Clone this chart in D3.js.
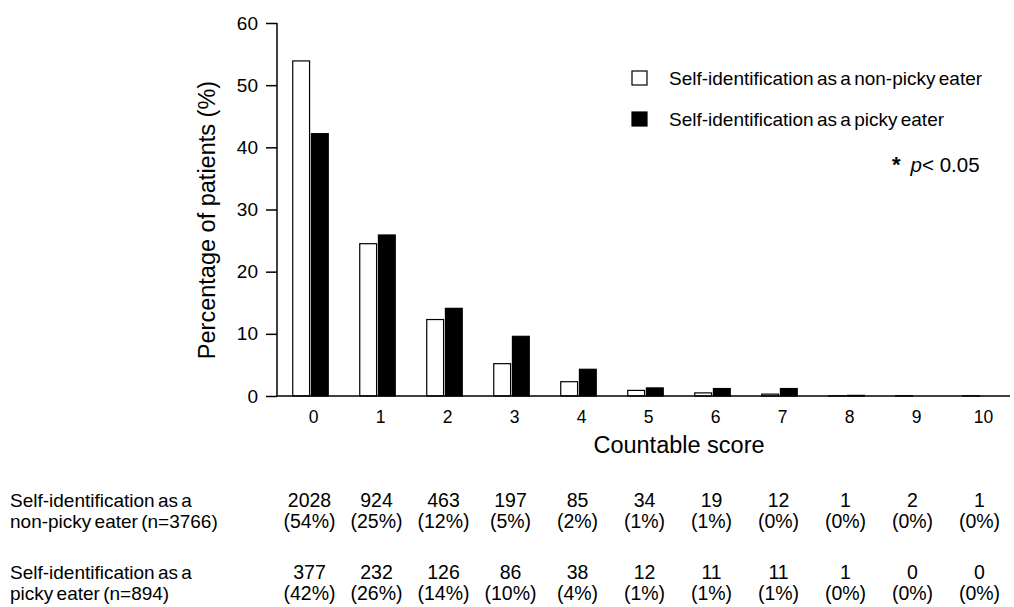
<!DOCTYPE html>
<html>
<head>
<meta charset="utf-8">
<script src="https://cdn.jsdelivr.net/npm/d3@7"></script>
<style>
  body { margin: 0; background: #fff; }
  text { font-family: "Liberation Sans", Arial, sans-serif; fill: #000; }
</style>
</head>
<body>
<div id="chart"></div>
<script>
// data
var scores = ["0", "1", "2", "3", "4", "5", "6", "7", "8", "9", "10"];
var nonPicky = [53.9, 24.5, 12.3, 5.2, 2.3, 0.9, 0.5, 0.3, 0.03, 0.05, 0.03];
var picky = [42.2, 25.9, 14.1, 9.6, 4.3, 1.3, 1.2, 1.2, 0.1, 0, 0];
var yTicks = [0, 10, 20, 30, 40, 50, 60];
var nonPickyCounts = ["2028", "924", "463", "197", "85", "34", "19", "12", "1", "2", "1"];
var nonPickyPct = ["(54%)", "(25%)", "(12%)", "(5%)", "(2%)", "(1%)", "(1%)", "(0%)", "(0%)", "(0%)", "(0%)"];
var pickyCounts = ["377", "232", "126", "86", "38", "12", "11", "11", "1", "0", "0"];
var pickyPct = ["(42%)", "(26%)", "(14%)", "(10%)", "(4%)", "(1%)", "(1%)", "(1%)", "(0%)", "(0%)", "(0%)"];
var seriesNames = ["Self-identification as a non-picky eater", "Self-identification as a picky eater"];

var width = 1014, height = 607;

var svg = d3.select("#chart")
  .append("svg")
  .attr("width", width)
  .attr("height", height);

var xScale = d3.scaleBand()
  .domain(scores)
  .range([277, 1014])
  .paddingInner(0.47)
  .paddingOuter(0.235);

var subScale = d3.scaleBand()
  .domain(["a", "b"])
  .range([0, xScale.bandwidth()])
  .paddingInner(0.1);

var yScale = d3.scaleLinear()
  .domain([0, 60])
  .range([396, 23]);

// bars
var groups = svg.selectAll(".grp")
  .data(scores)
  .enter().append("g")
  .attr("class", "grp")
  .attr("transform", function(d) { return "translate(" + xScale(d) + ",0)"; });

groups.append("rect")
  .attr("x", subScale("a"))
  .attr("y", function(d, i) { return yScale(nonPicky[i]); })
  .attr("width", subScale.bandwidth())
  .attr("height", function(d, i) { return yScale(0) - yScale(nonPicky[i]); })
  .attr("fill", "#fff")
  .attr("stroke", "#000")
  .attr("stroke-width", 1.2);

groups.append("rect")
  .attr("x", subScale("b"))
  .attr("y", function(d, i) { return yScale(picky[i]); })
  .attr("width", subScale.bandwidth())
  .attr("height", function(d, i) { return yScale(0) - yScale(picky[i]); })
  .attr("fill", "#000")
  .attr("stroke", "#000")
  .attr("stroke-width", 1.2);

// y axis
var yAxis = svg.append("g")
  .attr("transform", "translate(277,0)")
  .call(d3.axisLeft(yScale).tickValues(yTicks).tickSize(11).tickPadding(8));
yAxis.select(".domain").attr("stroke-width", 1.5).attr("d", "M0," + yScale(60) + "V" + yScale(0));
yAxis.selectAll(".tick line").attr("stroke-width", 1.5);
yAxis.selectAll("text")
  .style("font-family", "Liberation Sans, Arial, sans-serif")
  .style("font-size", "19px");

// x axis baseline
svg.append("line")
  .attr("x1", 277).attr("x2", 1010)
  .attr("y1", yScale(0)).attr("y2", yScale(0))
  .attr("stroke", "#000")
  .attr("stroke-width", 1.5);

// x tick labels
svg.selectAll(".xlab")
  .data(scores)
  .enter().append("text")
  .attr("class", "xlab")
  .attr("x", function(d) { return xScale(d) + xScale.bandwidth() / 2 + 3; })
  .attr("y", 423)
  .attr("text-anchor", "middle")
  .style("font-size", "17.5px")
  .text(function(d) { return d; });

// axis titles
svg.append("text")
  .attr("x", 679)
  .attr("y", 453)
  .attr("text-anchor", "middle")
  .style("font-size", "23.5px")
  .text("Countable score");

svg.append("text")
  .attr("transform", "translate(215,220) rotate(-90)")
  .attr("text-anchor", "middle")
  .style("font-size", "23.5px")
  .text("Percentage of patients (%)");

// legend
var legend = svg.selectAll(".leg")
  .data(seriesNames)
  .enter().append("g")
  .attr("class", "leg")
  .attr("transform", function(d, i) { return "translate(632," + (71 + i * 41) + ")"; });

legend.append("rect")
  .attr("width", 15)
  .attr("height", 14)
  .attr("fill", function(d, i) { return i === 0 ? "#fff" : "#000"; })
  .attr("stroke", "#000")
  .attr("stroke-width", 1.2);

legend.append("text")
  .attr("x", 37)
  .attr("y", 14)
  .style("font-size", "19px")
  .style("word-spacing", "-2px")
  .text(function(d) { return d; });

var sig = svg.append("text")
  .attr("x", 892)
  .attr("y", 172)
  .style("font-size", "20.5px");
sig.append("tspan").style("font-size", "22px").style("font-weight", "bold").text("*");
sig.append("tspan").attr("dx", 10).style("font-style", "italic").text("p");
sig.append("tspan").text("< 0.05");

// table under the chart
var rows = [
  { label: ["Self-identification as a", "non-picky eater (n=3766)"], counts: nonPickyCounts, pct: nonPickyPct, y: 507 },
  { label: ["Self-identification as a", "picky eater (n=894)"], counts: pickyCounts, pct: pickyPct, y: 579 }
];

rows.forEach(function(r) {
  r.label.forEach(function(t, k) {
    svg.append("text")
      .attr("x", 10)
      .attr("y", r.y + k * 21)
      .style("font-size", "19px")
      .style("word-spacing", "-2px")
      .text(t);
  });

  [r.counts, r.pct].forEach(function(vals, k) {
    svg.selectAll(null)
      .data(scores)
      .enter().append("text")
      .attr("x", function(d) { return xScale(d) + xScale.bandwidth() / 2 - 1; })
      .attr("y", r.y + k * 21)
      .attr("text-anchor", "middle")
      .style("font-size", "19.5px")
      .text(function(d, i) { return vals[i]; });
  });
});
</script>
</body>
</html>
